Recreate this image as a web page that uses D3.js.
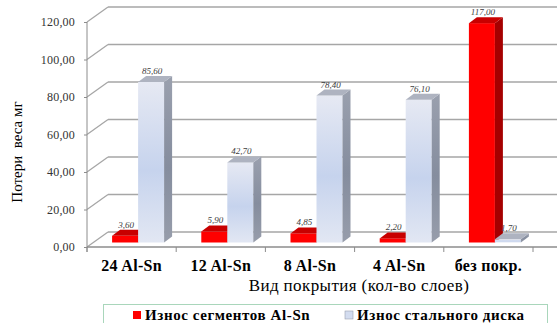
<!DOCTYPE html>
<html>
<head>
<meta charset="utf-8">
<script src="https://cdn.jsdelivr.net/npm/d3@7"></script>
<style>
  body { margin: 0; background: #fff; }
  svg text { font-family: "Liberation Serif", "DejaVu Serif", serif; }
</style>
</head>
<body>
<div id="chart"></div>
<script>
// data
const categories = ["24 Al-Sn", "12 Al-Sn", "8 Al-Sn", "4 Al-Sn", "без покр."];
const seriesNames = ["Износ сегментов Al-Sn", "Износ стального диска"];
const segmentsLoss = [3.60, 5.90, 4.85, 2.20, 117.00];
const diskLoss = [85.60, 42.70, 78.40, 76.10, 1.70];
const yTicks = [0, 20, 40, 60, 80, 100, 120];

const W = 557, H = 323;
const plot = {left: 87, right: 533, top: 22, bottom: 247};
// depth of the floor / walls and of a single bar
const DX = 21, DY = -15;
const bDX = 8, bDY = -6;
const offX = (DX - bDX) / 2, offY = (DY - bDY) / 2;
const serif = "Liberation Serif, DejaVu Serif, serif";

const svg = d3.select("#chart").append("svg")
    .attr("width", W)
    .attr("height", H);

const defs = svg.append("defs");
const gFront = defs.append("linearGradient").attr("id", "blueFront")
    .attr("x1", 0).attr("y1", 0).attr("x2", 0).attr("y2", 1);
gFront.append("stop").attr("offset", "0%").attr("stop-color", "#e6e9f3");
gFront.append("stop").attr("offset", "55%").attr("stop-color", "#c6d3ed");
gFront.append("stop").attr("offset", "100%").attr("stop-color", "#e2e7f3");
const gSide = defs.append("linearGradient").attr("id", "blueSide")
    .attr("x1", 0).attr("y1", 0).attr("x2", 0).attr("y2", 1);
gSide.append("stop").attr("offset", "0%").attr("stop-color", "#9aa0ae");
gSide.append("stop").attr("offset", "55%").attr("stop-color", "#858d9e");
gSide.append("stop").attr("offset", "100%").attr("stop-color", "#979dab");

// scales
var x = d3.scaleBand()
    .domain(categories)
    .range([plot.left, plot.right])
    .padding(0);
var y = d3.scaleLinear()
    .domain([0, 120])
    .range([plot.bottom, plot.top]);
var groupW = x.bandwidth() * 0.583;
var x1 = d3.scaleBand()
    .domain(seriesNames)
    .range([0, groupW])
    .padding(0);

const fmt = v => d3.format(".2f")(v).replace(".", ",");

// walls and grid
const grid = svg.append("g")
    .attr("stroke", "#a6a6a6")
    .attr("stroke-width", 1.3)
    .attr("fill", "none");
grid.selectAll(".back")
    .data(yTicks)
  .enter().append("line")
    .attr("x1", plot.left + DX)
    .attr("x2", W)
    .attr("y1", d => y(d) + DY)
    .attr("y2", d => y(d) + DY);
grid.selectAll(".side")
    .data(yTicks)
  .enter().append("line")
    .attr("x1", plot.left)
    .attr("x2", plot.left + DX)
    .attr("y1", d => y(d))
    .attr("y2", d => y(d) + DY);

// y axis
const yAxis = svg.append("g")
    .attr("transform", `translate(${plot.left},0)`)
    .call(d3.axisLeft(y).tickValues(yTicks).tickSize(3).tickPadding(9).tickFormat(fmt));
yAxis.attr("font-family", serif);
yAxis.select(".domain").attr("stroke", "#8c8c8c").attr("d", `M0,${plot.top}V${plot.bottom + 5}`);
yAxis.selectAll(".tick line").attr("stroke", "#8c8c8c");
yAxis.selectAll(".tick text")
    .attr("font-family", serif)
    .attr("font-size", 12)
    .attr("letter-spacing", 0.2)
    .attr("fill", "#333");

// x axis (ticks at category borders)
const xAxis = svg.append("g")
    .attr("transform", `translate(0,${plot.bottom})`);
xAxis.append("line")
    .attr("x1", plot.left).attr("x2", W)
    .attr("stroke", "#8c8c8c").attr("stroke-width", 1.3);
xAxis.selectAll(".bt")
    .data(categories.map(c => x(c)).concat([plot.right]))
  .enter().append("line")
    .attr("x1", d => d).attr("x2", d => d)
    .attr("y1", 0).attr("y2", 5)
    .attr("stroke", "#8c8c8c");
xAxis.selectAll(".lbl")
    .data(categories)
  .enter().append("text")
    .attr("x", d => x(d) + x.bandwidth() / 2)
    .attr("y", 24)
    .attr("text-anchor", "middle")
    .attr("font-family", serif)
    .attr("font-size", 16)
    .attr("font-weight", "bold")
    .attr("letter-spacing", 0.3)
    .attr("fill", "#000")
    .text(d => d);

// bars
const rows = [];
categories.forEach((c, i) => {
  rows.push({cat: c, s: seriesNames[0], v: segmentsLoss[i]});
  rows.push({cat: c, s: seriesNames[1], v: diskLoss[i]});
});
const colors = {
  [seriesNames[0]]: {front: "#ff0000", side: "#a50000", top: "#c80000"},
  [seriesNames[1]]: {front: "url(#blueFront)", side: "url(#blueSide)", top: "#aeb3c0"}
};

const bars = svg.selectAll(".bar")
    .data(rows)
  .enter().append("g")
    .attr("class", "bar")
    .attr("transform", d => `translate(${x(d.cat) + (x.bandwidth() - groupW) / 2 + x1(d.s) + offX},${offY})`);
const bw = x1.bandwidth();
bars.append("rect")
    .attr("x", 0)
    .attr("y", d => y(d.v))
    .attr("width", bw)
    .attr("height", d => y(0) - y(d.v))
    .attr("fill", d => colors[d.s].front);
bars.append("path")
    .attr("d", d => `M${bw},${y(d.v)}l${bDX},${bDY}V${y(0) + bDY}l${-bDX},${-bDY}Z`)
    .attr("fill", d => colors[d.s].side);
bars.append("path")
    .attr("d", d => `M0,${y(d.v)}l${bDX},${bDY}h${bw}l${-bDX},${-bDY}Z`)
    .attr("fill", d => colors[d.s].top);
bars.append("text")
    .attr("x", bw / 2 + 1)
    .attr("y", d => y(d.v) + bDY - 2)
    .attr("text-anchor", "middle")
    .attr("font-family", serif)
    .attr("font-size", 9)
    .attr("font-style", "italic")
    .attr("fill", "#404040")
    .text(d => fmt(d.v));

// axis titles
svg.append("text")
    .attr("transform", "translate(22,152) rotate(-90)")
    .attr("text-anchor", "middle")
    .attr("font-family", serif)
    .attr("font-size", 15)
    .attr("fill", "#000")
    .style("white-space", "pre")
    .text("Потери  веса мг");
svg.append("text")
    .attr("x", 359)
    .attr("y", 291)
    .attr("text-anchor", "middle")
    .attr("font-family", serif)
    .attr("font-size", 17)
    .attr("letter-spacing", 0.4)
    .attr("fill", "#000")
    .text("Вид покрытия (кол-во слоев)");

// legend
const legend = svg.append("g");
legend.append("rect")
    .attr("x", 103.5).attr("y", 304.5)
    .attr("width", 444).attr("height", 40)
    .attr("fill", "#fff")
    .attr("stroke", "#a9d6bb");
const legX = [133, 345];
const li = legend.selectAll(".li")
    .data(seriesNames)
  .enter().append("g")
    .attr("transform", (d, i) => `translate(${legX[i]},311)`);
li.append("rect")
    .attr("width", 8).attr("height", 8)
    .attr("fill", (d, i) => i === 0 ? "#ff0000" : "#d3dcef")
    .attr("stroke", (d, i) => i === 0 ? "none" : "#9aa0ae")
    .attr("stroke-width", 0.6);
li.append("text")
    .attr("x", 12)
    .attr("y", 9)
    .attr("font-family", serif)
    .attr("font-size", 15)
    .attr("font-weight", "bold")
    .attr("letter-spacing", 0.6)
    .attr("fill", "#000")
    .text(d => d);
</script>
</body>
</html>
